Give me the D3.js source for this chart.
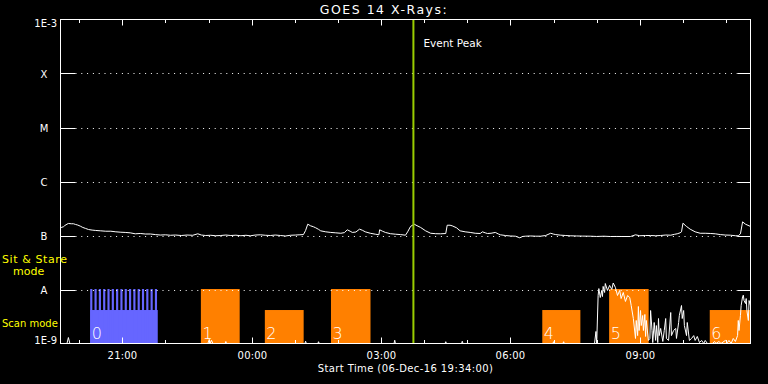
<!DOCTYPE html>
<html><head><meta charset="utf-8">
<script src="https://cdn.jsdelivr.net/npm/d3@7"></script>
<style>
html,body{margin:0;padding:0;background:#000;}
svg{display:block;}
text{font-family:"DejaVu Sans",sans-serif;}
</style>
</head><body>
<svg id="c" width="768" height="384"></svg>
<script>
// ---------------- DATA ----------------
const chartTitle = "GOES 14 X-Rays:";
const xAxisTitle = "Start Time (06-Dec-16 19:34:00)";
const startTime = "19:34";
const endTime = "11:34";
const peakTime = "03:45";
const peakLabel = "Event Peak";

const yTickValues = [1e-3, 1e-4, 1e-5, 1e-6, 1e-7, 1e-8, 1e-9];
const yTickLabels = ["1E-3", "X", "M", "C", "B", "A", "1E-9"];

// GOES long channel (W/m^2)
const longTimes = ["19:34","19:35","19:38","19:40","19:43","19:45","19:49","19:52","19:55","19:58","20:02","20:05","20:09","20:13","20:18","20:23","20:30","20:37","20:44","20:51","20:58","21:04","21:11","21:18","21:25","21:32","21:39","21:46","21:53","22:00","22:07","22:14","22:22","22:30","22:38","22:45","22:50","22:56","23:03","23:10","23:17","23:24","23:31","23:38","23:45","23:52","23:58","00:05","00:12","00:19","00:26","00:33","00:40","00:47","00:54","01:01","01:06","01:12","01:15","01:18","01:22","01:26","01:29","01:33","01:36","01:43","01:50","01:57","02:04","02:09","02:13","02:17","02:20","02:25","02:30","02:34","02:38","02:45","02:52","02:57","02:58","03:02","03:06","03:13","03:20","03:27","03:34","03:37","03:41","03:46","03:50","03:55","04:02","04:09","04:16","04:23","04:30","04:32","04:36","04:39","04:45","04:50","04:57","05:04","05:11","05:18","05:21","05:25","05:28","05:33","05:39","05:43","05:46","05:53","06:00","06:07","06:13","06:17","06:21","06:28","06:35","06:42","06:49","06:56","07:00","07:03","07:10","07:17","07:24","07:32","07:40","07:51","08:00","08:10","08:19","08:27","08:35","08:47","08:54","09:00","09:08","09:15","09:22","09:29","09:36","09:43","09:48","09:52","09:56","09:58","10:00","10:03","10:05","10:10","10:17","10:24","10:31","10:38","10:45","10:52","10:59","11:06","11:13","11:17","11:20","11:23","11:27","11:34"];
const longFlux = [1.35e-7,1.41e-7,1.45e-7,1.53e-7,1.62e-7,1.67e-7,1.65e-7,1.65e-7,1.60e-7,1.56e-7,1.48e-7,1.41e-7,1.35e-7,1.29e-7,1.26e-7,1.24e-7,1.22e-7,1.20e-7,1.20e-7,1.17e-7,1.15e-7,1.14e-7,1.12e-7,1.075e-7,1.09e-7,1.066e-7,1.066e-7,1.04e-7,1.02e-7,1.03e-7,1.01e-7,1.02e-7,1.00e-7,1.02e-7,1.01e-7,1.075e-7,1.02e-7,1.00e-7,1.01e-7,0.99e-7,1.00e-7,1.02e-7,1.00e-7,1.013e-7,0.99e-7,1.01e-7,0.987e-7,1.02e-7,1.03e-7,1.01e-7,1.00e-7,1.02e-7,1.00e-7,0.979e-7,1.01e-7,1.02e-7,1.03e-7,1.04e-7,1.24e-7,1.62e-7,1.51e-7,1.45e-7,1.39e-7,1.30e-7,1.22e-7,1.17e-7,1.14e-7,1.12e-7,1.10e-7,1.13e-7,1.275e-7,1.20e-7,1.14e-7,1.16e-7,1.31e-7,1.25e-7,1.17e-7,1.10e-7,1.057e-7,1.03e-7,1.275e-7,1.20e-7,1.14e-7,1.08e-7,1.057e-7,1.04e-7,1.013e-7,1.17e-7,1.47e-7,1.62e-7,1.52e-7,1.41e-7,1.22e-7,1.10e-7,1.08e-7,1.075e-7,1.089e-7,1.55e-7,1.55e-7,1.51e-7,1.39e-7,1.22e-7,1.17e-7,1.14e-7,1.10e-7,1.089e-7,1.17e-7,1.12e-7,1.089e-7,1.10e-7,1.14e-7,1.07e-7,1.03e-7,1.00e-7,0.979e-7,0.97e-7,0.906e-7,0.96e-7,0.971e-7,0.98e-7,0.971e-7,0.971e-7,1.00e-7,1.10e-7,1.06e-7,1.04e-7,1.013e-7,1.00e-7,0.987e-7,0.98e-7,0.975e-7,0.971e-7,0.96e-7,0.97e-7,0.958e-7,0.96e-7,0.958e-7,0.958e-7,1.03e-7,0.99e-7,1.00e-7,1.00e-7,0.99e-7,1.00e-7,1.02e-7,1.013e-7,1.05e-7,1.075e-7,1.12e-7,1.17e-7,1.69e-7,1.55e-7,1.47e-7,1.31e-7,1.17e-7,1.10e-7,1.10e-7,1.09e-7,1.075e-7,1.04e-7,1.02e-7,1.013e-7,0.99e-7,0.987e-7,1.075e-7,1.79e-7,1.62e-7,1.47e-7];

// GOES short channel (W/m^2)
const shortTimes = ["19:34","19:43","19:45","19:47","22:59","23:01","23:02","23:04","23:06","23:23","23:24","23:25","01:14","01:15","01:16","01:32","01:33","01:34","03:18","03:19","03:20","04:29","04:30","04:31","04:52","04:53","04:54","06:59","07:00","07:01","07:13","07:14","07:15","07:57","07:59","08:00","08:02","08:03","08:05","08:07","08:08","08:09","08:11","08:12","08:15","08:18","08:21","08:23","08:26","08:29","08:32","08:34","08:37","08:40","08:43","08:46","08:48","08:51","08:54","08:55","08:57","08:58","08:59","09:01","09:02","09:04","09:05","09:07","09:08","09:09","09:12","09:14","09:15","09:17","09:18","09:20","09:22","09:23","09:25","09:26","09:27","09:29","09:32","09:34","09:36","09:37","09:40","09:43","09:44","09:47","09:50","09:51","09:54","09:55","09:58","09:59","10:01","10:02","10:05","10:06","10:09","10:12","10:15","10:17","10:20","10:23","10:26","10:29","10:31","10:34","10:41","10:44","10:46","10:50","10:53","10:59","11:02","11:04","11:07","11:10","11:13","11:16","11:17","11:18","11:20","11:21","11:23","11:24","11:25","11:27","11:28","11:29","11:31","11:32","11:34"];
const shortFlux = [0.8e-9,0.8e-9,1.29e-9,0.8e-9,0.8e-9,1.19e-9,0.8e-9,1.15e-9,0.8e-9,0.8e-9,1.09e-9,0.8e-9,0.8e-9,1.1e-9,0.8e-9,0.8e-9,1.08e-9,0.8e-9,0.8e-9,1.15e-9,0.8e-9,0.8e-9,1.08e-9,0.8e-9,0.8e-9,1.1e-9,0.8e-9,0.8e-9,1.08e-9,0.8e-9,0.8e-9,1.08e-9,0.8e-9,0.8e-9,1.67e-9,0.9e-9,7.74e-9,10.4e-9,7.1e-9,9.6e-9,7.4e-9,11.4e-9,8.8e-9,12.9e-9,9.6e-9,11.9e-9,10.0e-9,13.2e-9,10.9e-9,7.74e-9,9.6e-9,6.8e-9,8.8e-9,6.0e-9,7.74e-9,7.1e-9,5.05e-9,2.9e-9,1.24e-9,2.67e-9,1.4e-9,4.84e-9,1.74e-9,4.08e-9,2.15e-9,3.3e-9,1.74e-9,3.45e-9,1.35e-9,2.67e-9,1.14e-9,1.24e-9,4.08e-9,1.74e-9,1.04e-9,2.45e-9,1.14e-9,2.15e-9,1.04e-9,2.9e-9,1.4e-9,1.9e-9,1.09e-9,1.74e-9,2.9e-9,1.24e-9,1.14e-9,3.75e-9,1.4e-9,1.74e-9,1.9e-9,1.24e-9,2.45e-9,3.3e-9,5.05e-9,2.9e-9,4.08e-9,2.15e-9,1.4e-9,2.45e-9,1.14e-9,1.24e-9,1.4e-9,1.14e-9,1.35e-9,1.04e-9,1.14e-9,1.0e-9,1.14e-9,0.8e-9,0.8e-9,1.09e-9,0.8e-9,1.09e-9,0.8e-9,1.14e-9,1.04e-9,1.14e-9,1.0e-9,1.24e-9,1.09e-9,1.4e-9,2.67e-9,1.74e-9,3.3e-9,5.05e-9,7.4e-9,7.85e-9,6.25e-9,5.5e-9,6.8e-9,4.08e-9,2.67e-9,6.25e-9,5.0e-9];

// Observation blocks
const blockLabels = ["0","1","2","3","4","5","6"];
const blockStarts = ["20:16","22:50","00:19","01:51","06:45","08:18","10:38"];
const blockEnds   = ["21:50","23:44","01:13","02:46","07:38","09:13","11:34"];
const blockModes  = ["scan","stare","scan","stare","scan","stare","scan"];
const blockKinds  = ["multi","single","single","single","single","single","single"];
// narrow sit&stare sub-pointings within block 0
const subStarts = ["20:16","20:22","20:28","20:34","20:40","20:46","20:52","20:58","21:04","21:10","21:16","21:22","21:28","21:34","21:40","21:46"];
const subDuration = 3; // minutes

const modeLevel = {scan: 4.08e-9, stare: 1e-8};
const modeLabels = ["Sit & Stare", "mode", "Scan mode"];

// ---------------- DRAW ----------------
function parseT(s){ const [h,m]=s.split(":").map(Number); return new Date(2016,11,h>=19?6:7,h,m); }

const L=60.5, R=750.5, T=19.5, B=343.5;
const svg=d3.select("#c");
svg.append("rect").attr("width",768).attr("height",384).attr("fill","#000");

const x=d3.scaleTime().domain([parseT(startTime),parseT(endTime)]).range([L,R]);
const y=d3.scaleLog().domain([1e-9,1e-3]).range([B,T]).clamp(true);

svg.append("clipPath").attr("id","pc").append("rect")
  .attr("x",L).attr("y",T).attr("width",R-L).attr("height",B-T);
const plot=svg.append("g").attr("clip-path","url(#pc)");

// blocks
const blocks=blockLabels.map((l,i)=>({l,s:parseT(blockStarts[i]),e:parseT(blockEnds[i]),m:blockModes[i],k:blockKinds[i]}));
blocks.forEach(b=>{
  const col=b.k==="multi"?"#6666ff":"#ff8000";
  const top=y(modeLevel[b.m]);
  plot.append("rect").attr("x",x(b.s)-0.5).attr("y",top-0.5).attr("width",x(b.e)-x(b.s)).attr("height",B-top+0.5).attr("fill",col);
  if(b.k==="multi"){
    subStarts.forEach(s=>{
      const t0=parseT(s), t1=new Date(t0.getTime()+subDuration*60000);
      const tt=y(modeLevel.stare);
      plot.append("rect").attr("x",x(t0)-0.5).attr("y",tt-0.5).attr("width",x(t1)-x(t0)).attr("height",B-tt).attr("fill",col);
    });
  }
});

// gridlines
yTickValues.slice(1,-1).forEach(v=>{
  const yy=Math.round(y(v))+0.5;
  svg.append("line").attr("x1",L+15).attr("x2",R-13).attr("y1",yy).attr("y2",yy)
    .attr("stroke","#fff").attr("stroke-width",1).attr("stroke-dasharray","1,4.8");
  svg.append("line").attr("x1",L).attr("x2",L+15).attr("y1",yy).attr("y2",yy).attr("stroke","#fff");
  svg.append("line").attr("x1",R-13).attr("x2",R).attr("y1",yy).attr("y2",yy).attr("stroke","#fff");
});

// curves
const line=d3.line().x(d=>x(d[0])).y(d=>y(d[1]));
const longData=longTimes.map((t,i)=>[parseT(t),longFlux[i]]);
const shortData=shortTimes.map((t,i)=>[parseT(t),shortFlux[i]]);
plot.append("path").attr("d",line(shortData)).attr("fill","none").attr("stroke","#fff").attr("stroke-width",1);
plot.append("path").attr("d",line(longData)).attr("fill","none").attr("stroke","#fff").attr("stroke-width",1);

// event peak
const px=x(parseT(peakTime));
svg.append("line").attr("x1",px).attr("x2",px).attr("y1",T).attr("y2",B).attr("stroke","#99cc00").attr("stroke-width",2);
svg.append("text").attr("x",px+10).attr("y",47).attr("fill","#fff").attr("font-size",10.5).text(peakLabel);

// frame
svg.append("rect").attr("x",L).attr("y",T).attr("width",R-L).attr("height",B-T).attr("fill","none").attr("stroke","#fff");

// time ticks
const hours=x.ticks(d3.timeHour.every(1));
hours.forEach(h=>{
  const major=h.getHours()%3===0;
  const len=major?6:3.5;
  const xx=Math.round(x(h))+0.5;
  svg.append("line").attr("x1",xx).attr("x2",xx).attr("y1",T).attr("y2",T+len).attr("stroke","#fff");
  svg.append("line").attr("x1",xx).attr("x2",xx).attr("y1",B).attr("y2",B-len).attr("stroke","#fff");
  if(major){
    svg.append("text").attr("x",xx).attr("y",359).attr("text-anchor","middle").attr("fill","#fff").attr("font-size",10)
      .attr("letter-spacing",0.2).text(d3.timeFormat("%H:%M")(h));
  }
});

// block labels
blocks.forEach(b=>{
  svg.append("text").attr("x",x(b.s)+1).attr("y",339).attr("fill","#fff").attr("font-size",16).attr("font-weight",200).text(b.l);
});

// y labels
yTickValues.forEach((v,i)=>{
  const lab=yTickLabels[i];
  let yy=y(v)+4.7;
  if(i===0) yy=y(v)+7.5;
  if(i===yTickValues.length-1) yy=y(v)+0.5;
  const single=lab.length===1;
  svg.append("text").attr("x",single?44:57).attr("y",yy).attr("text-anchor",single?"middle":"end")
    .attr("fill","#fff").attr("font-size",10).text(lab);
});

// mode labels
svg.append("text").attr("x",2).attr("y",263).attr("fill","#ffff00").attr("font-size",11).attr("letter-spacing",0.6).text(modeLabels[0]);
svg.append("text").attr("x",13).attr("y",275).attr("fill","#ffff00").attr("font-size",11).text(modeLabels[1]);
svg.append("text").attr("x",2).attr("y",327).attr("fill","#ffff00").attr("font-size",10).text(modeLabels[2]);

// titles
svg.append("text").attr("x",384).attr("y",14).attr("text-anchor","middle").attr("fill","#fff").attr("font-size",12.5)
  .attr("letter-spacing",1.5).text(chartTitle);
svg.append("text").attr("x",(L+R)/2).attr("y",372).attr("text-anchor","middle").attr("fill","#fff").attr("font-size",10)
  .attr("letter-spacing",0.4).text(xAxisTitle);
</script>
</body></html>
